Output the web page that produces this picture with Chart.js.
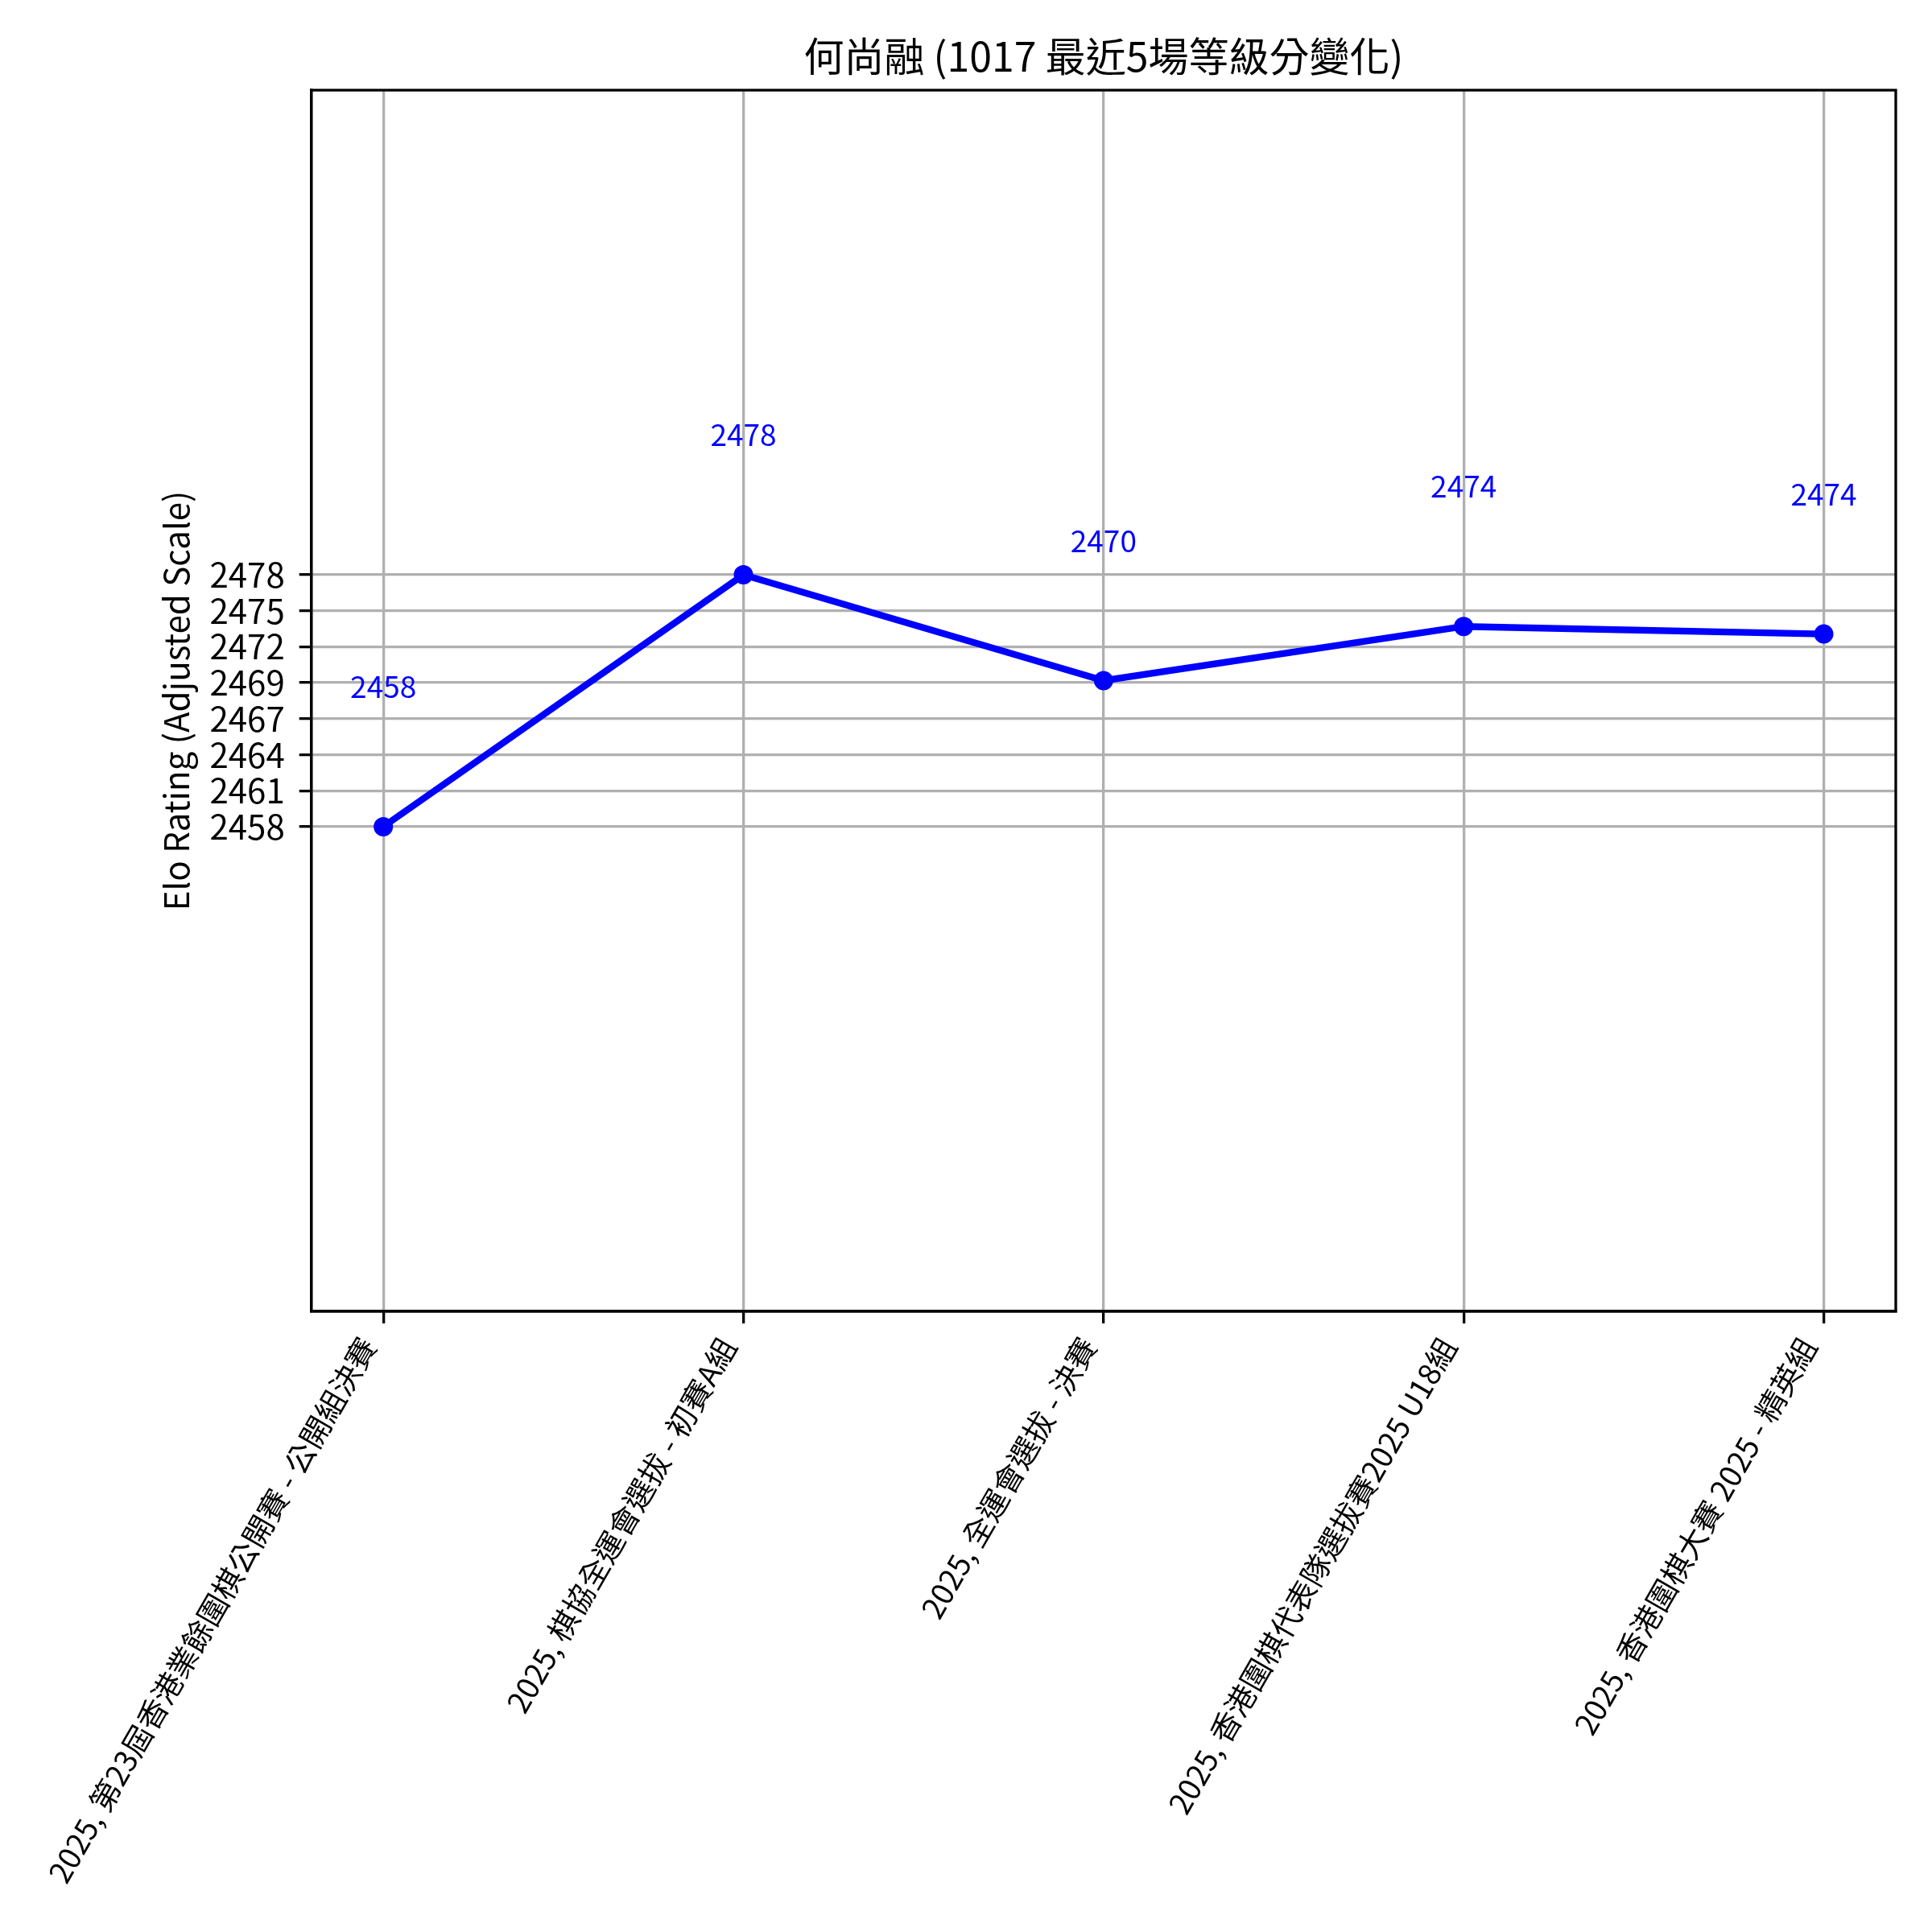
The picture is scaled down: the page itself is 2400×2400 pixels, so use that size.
<!DOCTYPE html>
<html lang="zh-Hant">
<head>
    <meta charset="UTF-8">
    <title>何尚融 等級分變化</title>
    <script src="https://cdn.jsdelivr.net/npm/chart.js"></script>
    <style>
        body { margin: 0; background: #fff; }
        #wrap { width: 2400px; height: 2400px; }
    </style>
</head>
<body>
    <div id="wrap"><canvas id="eloChart" width="2400" height="2400"></canvas></div>

    <script>
        // Données
        const tournois = [
            '2025, 第23屆香港業餘圍棋公開賽 - 公開組決賽',
            '2025, 棋協全運會選拔 - 初賽A組',
            '2025, 全運會選拔 - 決賽',
            '2025, 香港圍棋代表隊選拔賽2025 U18組',
            '2025, 香港圍棋大賽 2025 - 精英組'
        ];
        const elo = [2458, 2478, 2469.6, 2473.9, 2473.3];
        const eloLabels = ['2458', '2478', '2470', '2474', '2474'];
        const yTicks = [2458, 2460.86, 2463.71, 2466.57, 2469.43, 2472.29, 2475.14, 2478];
        const yTickLabels = ['2458', '2461', '2464', '2467', '2469', '2472', '2475', '2478'];

        const police = '"Noto Sans CJK TC", "Noto Sans", sans-serif';
        const grille = { color: '#b0b0b0', lineWidth: 3.3, tickLength: 15, tickColor: '#000', tickWidth: 3.3 };

        // valeurs au-dessus des points + cadre complet
        const extras = {
            id: 'extras',
            afterDatasetsDraw(chart) {
                const ctx = chart.ctx;
                const meta = chart.getDatasetMeta(0);
                ctx.save();
                ctx.font = `37px ${police}`;
                ctx.fillStyle = 'blue';
                ctx.textAlign = 'center';
                ctx.textBaseline = 'middle';
                meta.data.forEach((pt, i) => ctx.fillText(eloLabels[i], pt.x, pt.y - 174));
                const a = chart.chartArea;
                ctx.strokeStyle = '#000';
                ctx.lineWidth = 3.3;
                ctx.strokeRect(a.left, a.top, a.right - a.left, a.bottom - a.top);
                ctx.restore();
            }
        };

        new Chart(document.getElementById('eloChart'), {
            type: 'line',
            data: {
                datasets: [{
                    data: elo.map((v, i) => ({ x: i, y: v })),
                    borderColor: 'blue',
                    backgroundColor: 'blue',
                    borderWidth: 8.3,
                    pointRadius: 12,
                    pointBorderWidth: 0,
                    pointBackgroundColor: 'blue',
                    tension: 0,
                    fill: false
                }]
            },
            options: {
                responsive: false,
                animation: false,
                devicePixelRatio: 1,
                layout: { padding: { top: 0, left: 0, right: 45, bottom: 0 } },
                plugins: {
                    legend: { display: false },
                    tooltip: { enabled: false },
                    title: {
                        display: true,
                        fullSize: false,
                        text: '何尚融 (1017 最近5場等級分變化)',
                        color: '#000',
                        font: { family: police, size: 50, weight: 'normal' },
                        padding: { top: 40, bottom: 12 }
                    }
                },
                scales: {
                    x: {
                        type: 'linear',
                        min: -0.2,
                        max: 4.2,
                        afterBuildTicks: s => { s.ticks = tournois.map((_, i) => ({ value: i })); },
                        afterFit: s => { s.height = 2400 - 1629; s.paddingLeft = 0; s.paddingRight = 0; },
                        ticks: {
                            callback: (v, i) => tournois[i],
                            minRotation: 60,
                            maxRotation: 60,
                            autoSkip: false,
                            padding: 10,
                            labelOffset: -19,
                            color: '#000',
                            font: { family: police, size: 37.5 }
                        },
                        grid: grille,
                        border: { color: '#000', width: 3.3 }
                    },
                    y: {
                        min: 2419.5,
                        max: 2516.5,
                        afterBuildTicks: s => { s.ticks = yTicks.map(v => ({ value: v })); },
                        afterFit: s => { s.width = 386.7; s.paddingTop = 0; s.paddingBottom = 0; },
                        ticks: {
                            callback: (v, i) => yTickLabels[i],
                            padding: 18,
                            color: '#000',
                            font: { family: police, size: 42 }
                        },
                        grid: grille,
                        border: { color: '#000', width: 3.3 },
                        title: {
                            display: true,
                            text: 'Elo Rating (Adjusted Scale)',
                            color: '#000',
                            font: { family: police, size: 42 },
                            padding: { top: 194, bottom: 0 }
                        }
                    }
                }
            },
            plugins: [extras]
        });
    </script>
</body>
</html>
